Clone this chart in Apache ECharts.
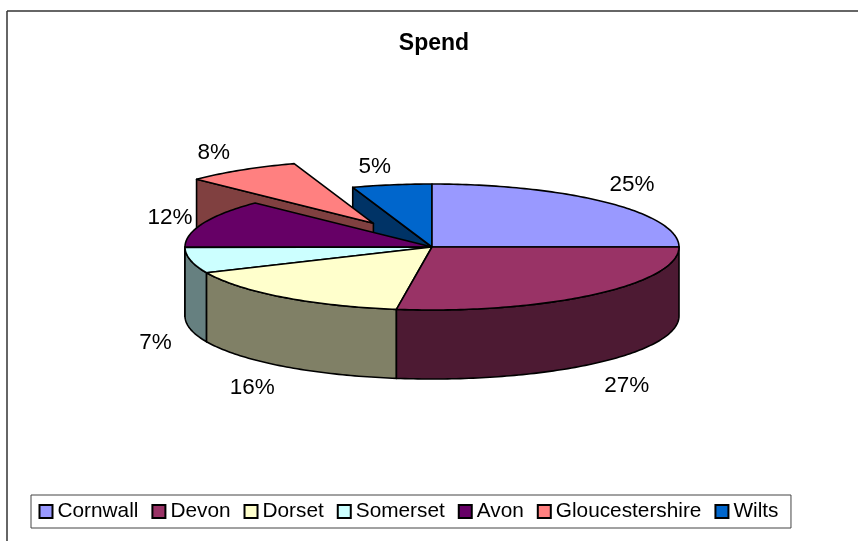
<!DOCTYPE html>
<html><head><meta charset="utf-8">
<style>html,body{margin:0;padding:0;background:#fff}#c{width:858px;height:541px}</style>
<script src="https://cdn.jsdelivr.net/npm/echarts@6/dist/echarts.min.js"></script>
</head><body><div id="c"></div>
<script>
const titleText = 'Spend';
const categories = ['Cornwall','Devon','Dorset','Somerset','Avon','Gloucestershire','Wilts'];
const spend = [25, 27.3, 16, 6.6, 12.4, 7.5, 5.2];
const topColors = ['#9999FF','#993366','#FFFFCC','#CCFFFF','#660066','#FF8080','#0066CC'];
const sideColors = ['#4D4D80','#4D1A33','#808066','#668080','#330033','#804040','#003366'];
const explode = [0,0,0,0,0,0.445,0];
const backToFront = ['Wilts','Gloucestershire','Cornwall','Avon','Somerset','Dorset','Devon'];
const labelNudge = [[-5,1],[5,2],[-5,0],[7,8],[7,4],[-5,6],[-10,9]];

const CX=432, CY=247, RX=247, RY=63, DEPTH=69, LRX=290, LRY=90;
const total = spend.reduce(function(a,b){return a+b;},0);
const rad = function(d){return d*Math.PI/180;};
function spans(i){let s=0;for(let k=0;k<i;k++)s+=spend[k];const a=s/total*360;return [a,a+spend[i]/total*360];}
function pt(o,deg,dz){return [o[0]+RX*Math.sin(rad(deg)),o[1]-RY*Math.cos(rad(deg))+(dz||0)];}
function arc(o,a,b,dz){const n=Math.max(2,Math.ceil(Math.abs(b-a)));const out=[];for(let k=0;k<=n;k++)out.push(pt(o,a+(b-a)*k/n,dz));return out;}
const edge={stroke:'#000',lineWidth:1.6,lineJoin:'round'};

function renderSlice(i){
  return function(params,api){
    const v=spans(i),a=v[0],b=v[1],mid=(a+b)/2,e=explode[i];
    const o=[CX+e*RX*Math.sin(rad(mid)),CY-e*RY*Math.cos(rad(mid))];
    const side=sideColors[i],top=topColors[i],base=backToFront.indexOf(categories[i])*10;
    const kids=[];
    const poly=function(pts,fill,z){kids.push({type:'polygon',shape:{points:pts},z2:base+z,style:Object.assign({fill:fill},edge)});};
    if(a>180&&a<360) poly([o,pt(o,a),pt(o,a,DEPTH),[o[0],o[1]+DEPTH]],side,0);
    const wa=Math.max(a,90),wb=Math.min(b,270);
    if(wb>wa) poly(arc(o,wa,wb,0).concat(arc(o,wb,wa,DEPTH)),side,1);
    poly([o].concat(arc(o,a,b,0)),top,2);
    const c=Math.cos(rad(mid)),s=Math.sin(rad(mid));
    kids.push({type:'text',z2:200,style:{
      text:Math.round(api.value(0)/total*100)+'%',
      x:o[0]+LRX*s+labelNudge[i][0],
      y:o[1]-LRY*c+(c<0?DEPTH:0)+labelNudge[i][1],
      fill:'#000',font:'22.5px "Liberation Sans"',align:'center',verticalAlign:'middle'}});
    return {type:'group',children:kids};
  };
}

const chart=echarts.init(document.getElementById('c'),null,{renderer:'canvas'});
chart.setOption({
  animation:false,
  backgroundColor:'#fff',
  title:{text:titleText,left:429,top:27,textAlign:'center',
    textStyle:{fontFamily:'Liberation Sans',fontWeight:'bold',fontSize:23,color:'#000'}},
  legend:{left:31,top:495,orient:'horizontal',data:categories,icon:'rect',
    itemWidth:13,itemHeight:13,itemGap:13,padding:[6,12.5,6,7.5],
    backgroundColor:'#fff',borderColor:'#444',borderWidth:1,
    itemStyle:{borderColor:'#000',borderWidth:2},
    selectedMode:false,
    textStyle:{fontFamily:'Liberation Sans',fontSize:20.8,color:'#000'}},
  graphic:[
    {type:'line',shape:{x1:7,y1:11,x2:858,y2:11},style:{stroke:'#333',lineWidth:1.5},silent:true},
    {type:'line',shape:{x1:7,y1:11,x2:7,y2:541},style:{stroke:'#333',lineWidth:1.5},silent:true}
  ],
  series:categories.map(function(name,i){return {
    type:'custom',name:name,coordinateSystem:'none',silent:true,clip:false,
    itemStyle:{color:topColors[i]},
    data:[[spend[i]]],
    renderItem:renderSlice(i)
  };})
});
</script></body></html>
